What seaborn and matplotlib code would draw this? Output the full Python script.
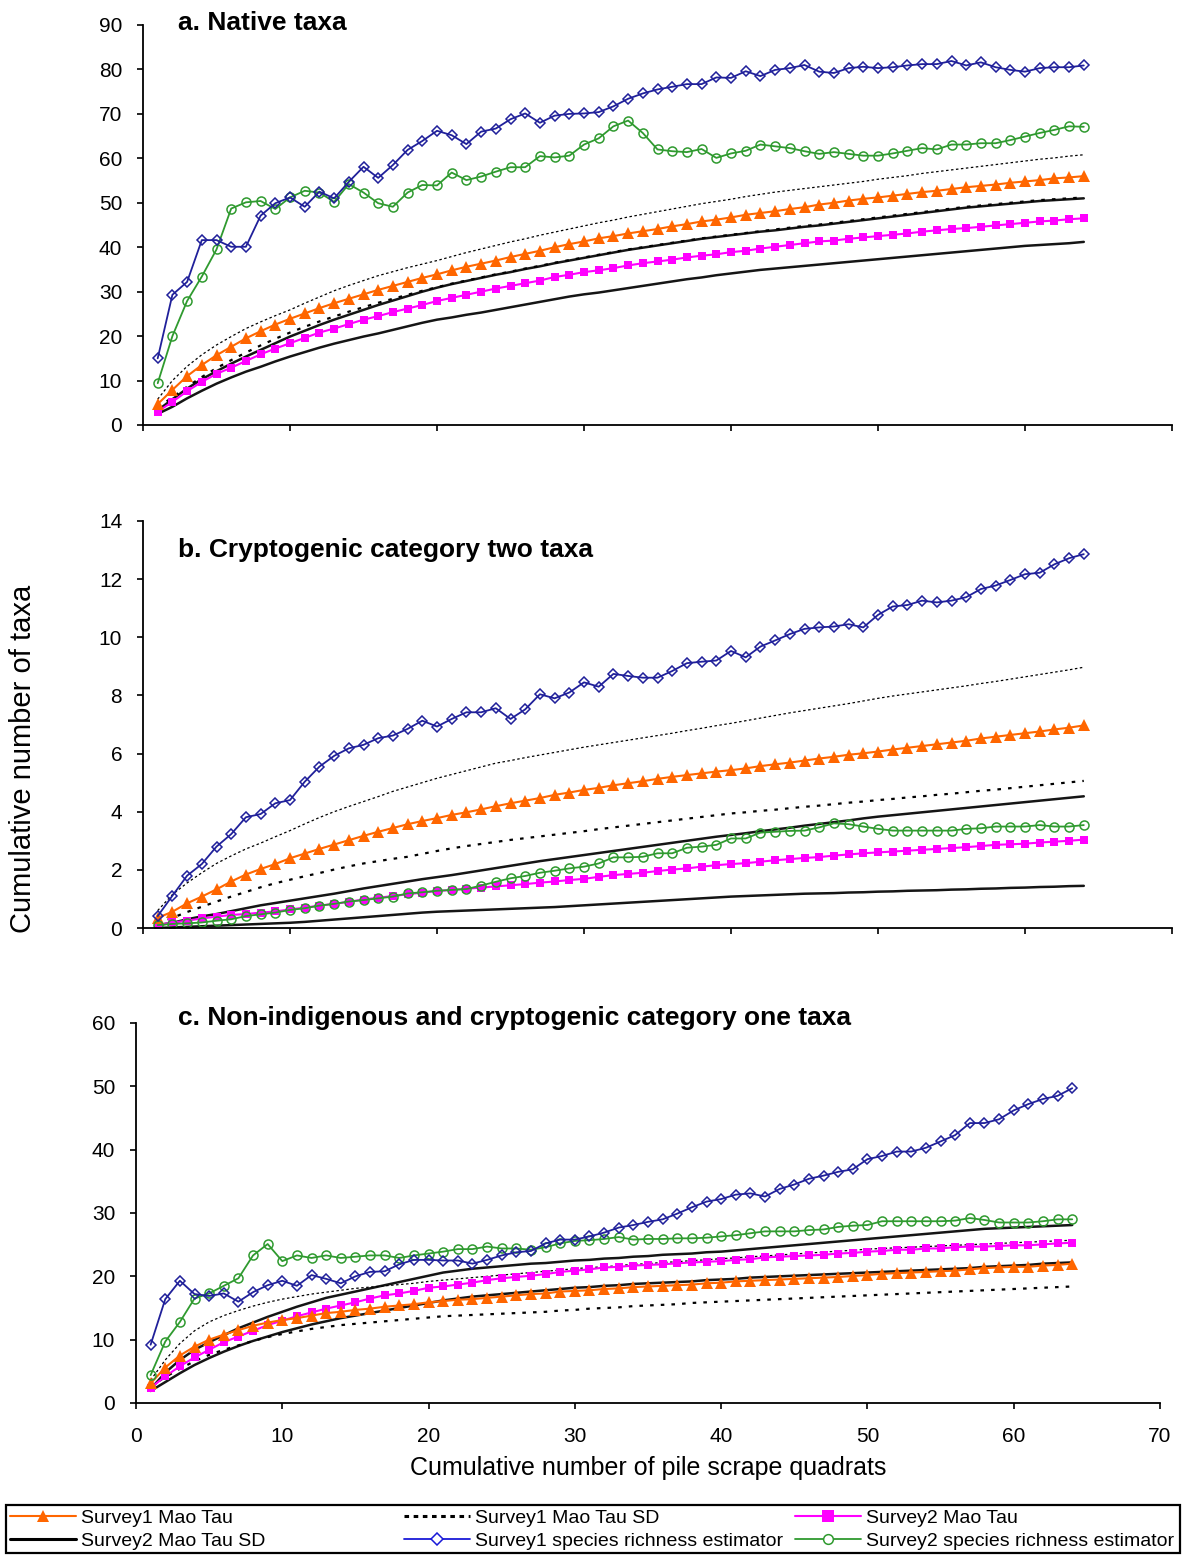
import matplotlib
matplotlib.use("Agg")
import matplotlib.pyplot as plt
from matplotlib.lines import Line2D
from matplotlib.patches import Rectangle
import seaborn as sns

# Cumulative number of pile scrape quadrats (sample order)
quadrats = list(range(1, 65))

# ---------------- a. Native taxa ----------------
native_s1_mean = [4.7, 7.9, 11.0, 13.5, 15.7, 17.6, 19.5, 21.1, 22.6, 23.9, 25.1, 26.3, 27.4, 28.4, 29.4, 30.4,
                  31.3, 32.2, 33.1, 33.9, 34.8, 35.6, 36.3, 37.0, 37.8, 38.5, 39.2, 40.0, 40.7, 41.3, 42.0, 42.5,
                  43.1, 43.6, 44.1, 44.7, 45.2, 45.8, 46.2, 46.7, 47.3, 47.7, 48.1, 48.6, 49.0, 49.6, 50.0, 50.5,
                  50.9, 51.2, 51.6, 52.0, 52.4, 52.7, 53.1, 53.5, 53.8, 54.1, 54.5, 54.8, 55.1, 55.5, 55.7, 56.0]
native_s1_sd_hi = [5.8, 10.0, 13.2, 15.8, 18.0, 19.9, 21.7, 23.2, 24.6, 25.9, 27.4, 28.8, 30.2, 31.4, 32.5, 33.6,
                   34.5, 35.4, 36.2, 37.0, 37.9, 38.8, 39.6, 40.4, 41.2, 41.9, 42.7, 43.4, 44.1, 44.8, 45.5, 46.1,
                   46.8, 47.4, 48.0, 48.6, 49.2, 49.8, 50.3, 50.8, 51.4, 51.9, 52.4, 52.8, 53.2, 53.6, 54.0, 54.4,
                   54.8, 55.3, 55.7, 56.1, 56.6, 57.0, 57.4, 57.8, 58.2, 58.6, 59.0, 59.4, 59.8, 60.1, 60.5, 60.8]
native_s1_sd_lo = [4.0, 6.2, 8.6, 10.8, 12.8, 14.6, 16.3, 17.9, 19.4, 20.8, 22.1, 23.3, 24.4, 25.5, 26.5, 27.5,
                   28.4, 29.3, 30.2, 31.0, 31.8, 32.5, 33.2, 33.9, 34.5, 35.2, 35.8, 36.5, 37.1, 37.7, 38.3, 38.9,
                   39.5, 40.0, 40.5, 41.0, 41.5, 42.0, 42.4, 42.8, 43.2, 43.6, 44.0, 44.4, 44.8, 45.1, 45.5, 45.9,
                   46.3, 46.7, 47.1, 47.5, 47.9, 48.3, 48.7, 49.1, 49.4, 49.7, 50.0, 50.3, 50.6, 50.8, 51.0, 51.2]
native_s2_mean = [3.0, 5.2, 7.6, 9.7, 11.5, 12.9, 14.4, 15.9, 17.2, 18.4, 19.6, 20.8, 21.7, 22.7, 23.7, 24.5,
                  25.4, 26.2, 27.0, 27.9, 28.6, 29.3, 30.0, 30.7, 31.3, 31.9, 32.5, 33.3, 33.8, 34.4, 34.8, 35.3,
                  35.9, 36.4, 36.8, 37.2, 37.7, 38.1, 38.4, 38.9, 39.2, 39.7, 40.1, 40.5, 40.9, 41.3, 41.5, 41.9,
                  42.2, 42.5, 42.8, 43.1, 43.5, 43.8, 44.1, 44.3, 44.6, 44.9, 45.2, 45.5, 45.8, 46.0, 46.3, 46.5]
native_s2_sd_hi = [3.3, 5.8, 8.2, 10.3, 12.1, 13.8, 15.4, 16.9, 18.4, 19.9, 21.2, 22.5, 23.7, 24.8, 25.9, 27.0,
                   28.0, 29.0, 30.0, 30.9, 31.7, 32.4, 33.1, 33.8, 34.4, 35.1, 35.7, 36.4, 37.0, 37.6, 38.2, 38.8,
                   39.4, 39.9, 40.4, 40.9, 41.4, 41.9, 42.3, 42.7, 43.1, 43.5, 43.8, 44.2, 44.6, 44.9, 45.3, 45.7,
                   46.1, 46.5, 46.9, 47.3, 47.7, 48.1, 48.5, 48.9, 49.2, 49.5, 49.8, 50.1, 50.4, 50.6, 50.8, 51.0]
native_s2_sd_lo = [2.5, 4.1, 6.0, 7.7, 9.3, 10.7, 12.0, 13.1, 14.3, 15.4, 16.4, 17.4, 18.3, 19.1, 19.9, 20.6,
                   21.4, 22.2, 23.0, 23.7, 24.2, 24.8, 25.3, 25.9, 26.5, 27.1, 27.7, 28.3, 28.9, 29.4, 29.8, 30.3,
                   30.8, 31.3, 31.8, 32.3, 32.8, 33.2, 33.7, 34.1, 34.5, 34.9, 35.2, 35.5, 35.8, 36.1, 36.4, 36.7,
                   37.0, 37.3, 37.6, 37.9, 38.2, 38.5, 38.8, 39.1, 39.4, 39.7, 40.0, 40.3, 40.5, 40.7, 40.9, 41.2]
native_s1_est = [15.0, 29.3, 32.2, 41.6, 41.6, 40.1, 40.1, 47.1, 49.9, 51.2, 49.1, 52.5, 51.0, 54.7, 58.1, 55.6,
                 58.5, 61.9, 63.9, 66.2, 65.2, 63.2, 66.0, 66.7, 68.8, 70.1, 68.0, 69.6, 70.0, 70.1, 70.4, 71.7,
                 73.4, 74.6, 75.5, 76.1, 76.7, 76.7, 78.2, 78.1, 79.6, 78.5, 79.9, 80.3, 81.0, 79.5, 79.2, 80.3,
                 80.6, 80.3, 80.5, 80.9, 81.2, 81.2, 81.9, 80.9, 81.6, 80.5, 79.9, 79.5, 80.3, 80.5, 80.5, 80.9]
native_s2_est = [9.4, 20.0, 27.9, 33.4, 39.5, 48.7, 50.1, 50.4, 48.6, 51.2, 52.7, 52.3, 50.2, 54.2, 52.3, 49.9,
                 49.1, 52.3, 54.0, 53.9, 56.8, 55.1, 55.9, 57.0, 58.0, 58.0, 60.5, 60.2, 60.6, 63.1, 64.5, 67.2,
                 68.5, 65.7, 62.0, 61.6, 61.4, 62.1, 60.1, 61.1, 61.7, 63.1, 62.7, 62.3, 61.6, 61.0, 61.4, 61.0,
                 60.6, 60.6, 61.1, 61.7, 62.3, 62.0, 63.1, 63.1, 63.4, 63.4, 64.1, 64.9, 65.7, 66.4, 67.2, 67.1]

# ---------------- b. Cryptogenic category two taxa ----------------
crypto2_s1_mean = [0.35, 0.56, 0.85, 1.08, 1.33, 1.60, 1.84, 2.03, 2.20, 2.40, 2.56, 2.72, 2.87, 3.02, 3.17, 3.31,
                   3.44, 3.57, 3.68, 3.78, 3.89, 3.98, 4.08, 4.19, 4.29, 4.38, 4.47, 4.58, 4.66, 4.75, 4.82, 4.91,
                   4.98, 5.05, 5.13, 5.20, 5.26, 5.32, 5.38, 5.43, 5.49, 5.57, 5.63, 5.69, 5.76, 5.83, 5.89, 5.96,
                   6.01, 6.07, 6.14, 6.20, 6.26, 6.32, 6.38, 6.44, 6.52, 6.58, 6.64, 6.70, 6.76, 6.83, 6.89, 6.97]
crypto2_s1_sd_hi = [0.60, 1.15, 1.55, 1.90, 2.22, 2.48, 2.72, 2.92, 3.14, 3.35, 3.58, 3.80, 4.00, 4.18, 4.35, 4.52,
                    4.70, 4.85, 5.00, 5.15, 5.28, 5.41, 5.54, 5.67, 5.76, 5.86, 5.95, 6.04, 6.13, 6.22, 6.30, 6.38,
                    6.46, 6.54, 6.62, 6.70, 6.79, 6.87, 6.96, 7.04, 7.13, 7.22, 7.31, 7.40, 7.48, 7.56, 7.64, 7.72,
                    7.81, 7.90, 7.98, 8.05, 8.12, 8.19, 8.26, 8.33, 8.41, 8.48, 8.56, 8.64, 8.72, 8.80, 8.88, 8.97]
crypto2_s1_sd_lo = [0.15, 0.35, 0.55, 0.73, 0.91, 1.08, 1.24, 1.40, 1.54, 1.66, 1.78, 1.89, 2.01, 2.12, 2.22, 2.30,
                    2.38, 2.45, 2.55, 2.65, 2.74, 2.82, 2.89, 2.96, 3.03, 3.09, 3.15, 3.21, 3.27, 3.33, 3.40, 3.46,
                    3.52, 3.58, 3.64, 3.70, 3.76, 3.82, 3.88, 3.94, 3.98, 4.03, 4.07, 4.12, 4.17, 4.21, 4.26, 4.31,
                    4.35, 4.40, 4.44, 4.49, 4.53, 4.58, 4.62, 4.67, 4.72, 4.76, 4.81, 4.86, 4.91, 4.96, 5.01, 5.06]
crypto2_s2_mean = [0.10, 0.19, 0.25, 0.33, 0.39, 0.45, 0.48, 0.53, 0.57, 0.64, 0.70, 0.77, 0.83, 0.90, 0.98, 1.04,
                   1.10, 1.16, 1.22, 1.27, 1.31, 1.35, 1.39, 1.43, 1.47, 1.51, 1.56, 1.60, 1.65, 1.69, 1.76, 1.82,
                   1.86, 1.90, 1.96, 2.01, 2.05, 2.11, 2.16, 2.20, 2.23, 2.28, 2.33, 2.37, 2.41, 2.44, 2.49, 2.53,
                   2.57, 2.60, 2.63, 2.66, 2.69, 2.72, 2.75, 2.78, 2.82, 2.86, 2.88, 2.90, 2.94, 2.97, 3.00, 3.04]
crypto2_s2_sd_hi = [0.10, 0.18, 0.30, 0.40, 0.48, 0.58, 0.68, 0.78, 0.86, 0.94, 1.02, 1.10, 1.18, 1.27, 1.36, 1.44,
                    1.52, 1.60, 1.68, 1.75, 1.82, 1.90, 1.98, 2.06, 2.14, 2.22, 2.30, 2.37, 2.44, 2.51, 2.58, 2.65,
                    2.72, 2.79, 2.86, 2.93, 3.00, 3.07, 3.14, 3.20, 3.26, 3.33, 3.39, 3.45, 3.52, 3.58, 3.64, 3.70,
                    3.77, 3.83, 3.88, 3.93, 3.98, 4.03, 4.08, 4.13, 4.18, 4.23, 4.28, 4.33, 4.38, 4.43, 4.48, 4.53]
crypto2_s2_sd_lo = [0.00, 0.02, 0.04, 0.06, 0.08, 0.10, 0.12, 0.14, 0.16, 0.18, 0.21, 0.25, 0.29, 0.33, 0.37, 0.41,
                    0.45, 0.49, 0.53, 0.56, 0.58, 0.60, 0.62, 0.64, 0.66, 0.68, 0.70, 0.72, 0.75, 0.78, 0.81, 0.84,
                    0.87, 0.90, 0.93, 0.96, 0.99, 1.02, 1.05, 1.08, 1.10, 1.12, 1.14, 1.16, 1.18, 1.19, 1.20, 1.22,
                    1.23, 1.25, 1.26, 1.28, 1.29, 1.30, 1.32, 1.33, 1.35, 1.36, 1.38, 1.39, 1.41, 1.42, 1.44, 1.45]
crypto2_s1_est = [0.41, 1.11, 1.80, 2.20, 2.80, 3.23, 3.81, 3.92, 4.29, 4.40, 5.03, 5.55, 5.92, 6.18, 6.30, 6.53,
                  6.62, 6.85, 7.13, 6.93, 7.19, 7.42, 7.42, 7.56, 7.19, 7.52, 8.04, 7.90, 8.10, 8.45, 8.30, 8.74,
                  8.67, 8.61, 8.61, 8.84, 9.11, 9.16, 9.20, 9.53, 9.31, 9.68, 9.89, 10.11, 10.29, 10.34, 10.37, 10.45,
                  10.34, 10.77, 11.06, 11.11, 11.26, 11.20, 11.26, 11.38, 11.66, 11.78, 11.97, 12.17, 12.22, 12.51, 12.72, 12.86]
crypto2_s2_est = [0.10, 0.14, 0.16, 0.19, 0.25, 0.30, 0.41, 0.47, 0.53, 0.62, 0.68, 0.77, 0.83, 0.91, 0.96, 1.02,
                  1.08, 1.19, 1.23, 1.28, 1.31, 1.34, 1.46, 1.59, 1.71, 1.79, 1.90, 1.97, 2.05, 2.11, 2.22, 2.43,
                  2.43, 2.45, 2.57, 2.57, 2.76, 2.80, 2.86, 3.08, 3.08, 3.28, 3.31, 3.34, 3.35, 3.46, 3.60, 3.57,
                  3.49, 3.41, 3.35, 3.35, 3.35, 3.35, 3.35, 3.41, 3.43, 3.49, 3.49, 3.49, 3.54, 3.49, 3.49, 3.54]

# ---------------- c. Non-indigenous and cryptogenic category one taxa ----------------
nis_s1_mean = [3.1, 5.6, 7.5, 8.9, 10.0, 10.8, 11.5, 12.2, 12.7, 13.1, 13.4, 13.8, 14.2, 14.4, 14.7, 14.9,
               15.2, 15.4, 15.6, 15.9, 16.1, 16.3, 16.4, 16.6, 16.8, 17.0, 17.2, 17.3, 17.6, 17.7, 17.8, 18.0,
               18.1, 18.3, 18.4, 18.5, 18.6, 18.7, 18.9, 19.0, 19.2, 19.3, 19.4, 19.5, 19.6, 19.7, 19.8, 19.9,
               20.05, 20.2, 20.4, 20.5, 20.6, 20.7, 20.8, 20.9, 21.1, 21.3, 21.4, 21.5, 21.5, 21.7, 21.8, 22.0]
nis_s1_sd_hi = [3.6, 6.8, 9.4, 11.4, 12.8, 13.8, 14.6, 15.3, 15.9, 16.4, 16.8, 17.2, 17.5, 17.8, 18.1, 18.3,
                18.5, 18.7, 18.9, 19.2, 19.4, 19.6, 19.8, 20.0, 20.2, 20.4, 20.6, 20.8, 21.0, 21.2, 21.4, 21.5,
                21.7, 21.9, 22.0, 22.2, 22.3, 22.5, 22.6, 22.8, 22.9, 23.1, 23.2, 23.4, 23.5, 23.7, 23.8, 24.0,
                24.1, 24.3, 24.4, 24.5, 24.6, 24.7, 24.8, 24.9, 25.0, 25.1, 25.2, 25.3, 25.4, 25.5, 25.6, 25.7]
nis_s1_sd_lo = [2.6, 4.1, 5.4, 6.6, 7.6, 8.4, 9.1, 9.8, 10.4, 10.9, 11.3, 11.7, 12.0, 12.3, 12.5, 12.7,
                12.9, 13.1, 13.3, 13.5, 13.7, 13.8, 13.9, 14.0, 14.1, 14.2, 14.3, 14.4, 14.6, 14.7, 14.9, 15.0,
                15.1, 15.3, 15.4, 15.5, 15.6, 15.8, 15.9, 16.0, 16.1, 16.2, 16.3, 16.4, 16.5, 16.6, 16.7, 16.8,
                16.9, 17.0, 17.1, 17.2, 17.3, 17.4, 17.5, 17.6, 17.7, 17.8, 17.9, 18.0, 18.1, 18.2, 18.3, 18.4]
nis_s2_mean = [2.4, 4.2, 5.8, 7.2, 8.4, 9.6, 10.5, 11.4, 12.3, 13.0, 13.7, 14.3, 14.9, 15.4, 15.9, 16.5,
               17.0, 17.3, 17.7, 18.2, 18.4, 18.7, 19.0, 19.4, 19.7, 19.9, 20.1, 20.35, 20.7, 20.9, 21.1, 21.4,
               21.5, 21.7, 21.8, 21.9, 22.05, 22.2, 22.3, 22.4, 22.6, 22.7, 23.0, 23.1, 23.2, 23.3, 23.4, 23.6,
               23.7, 23.9, 24.0, 24.2, 24.2, 24.4, 24.4, 24.6, 24.7, 24.7, 24.8, 24.9, 24.9, 25.05, 25.2, 25.3]
nis_s2_sd_hi = [2.2, 4.8, 6.8, 8.4, 9.6, 10.7, 11.8, 12.7, 13.6, 14.4, 15.2, 15.9, 16.6, 17.1, 17.6, 18.1,
                18.6, 19.1, 19.6, 20.1, 20.6, 20.9, 21.2, 21.4, 21.6, 21.8, 22.0, 22.1, 22.3, 22.5, 22.6, 22.8,
                22.9, 23.1, 23.2, 23.4, 23.5, 23.6, 23.8, 23.9, 24.1, 24.3, 24.5, 24.7, 24.9, 25.1, 25.3, 25.5,
                25.7, 25.9, 26.1, 26.3, 26.5, 26.7, 26.9, 27.1, 27.3, 27.5, 27.6, 27.7, 27.8, 27.9, 28.0, 28.1]
nis_s2_sd_lo = [1.9, 3.3, 4.7, 6.0, 7.1, 8.1, 9.0, 9.8, 10.5, 11.2, 11.8, 12.4, 12.9, 13.4, 13.8, 14.2,
                14.6, 15.0, 15.4, 15.8, 16.2, 16.5, 16.8, 17.0, 17.2, 17.4, 17.6, 17.8, 18.0, 18.2, 18.3, 18.5,
                18.6, 18.8, 18.9, 19.0, 19.1, 19.2, 19.4, 19.5, 19.6, 19.8, 19.9, 20.0, 20.1, 20.2, 20.3, 20.4,
                20.5, 20.6, 20.7, 20.8, 20.9, 21.0, 21.1, 21.2, 21.3, 21.5, 21.6, 21.7, 21.8, 22.0, 22.1, 22.2]
nis_s1_est = [9.2, 16.4, 19.3, 17.2, 16.9, 17.3, 16.0, 17.5, 18.6, 19.3, 18.5, 20.2, 19.6, 18.9, 20.0, 20.7,
              20.8, 21.9, 22.6, 22.6, 22.5, 22.5, 22.0, 22.6, 23.3, 23.8, 24.0, 25.2, 25.8, 25.8, 26.3, 26.9,
              27.7, 28.1, 28.6, 29.0, 29.9, 30.9, 31.8, 32.2, 32.9, 33.1, 32.6, 33.8, 34.5, 35.4, 35.9, 36.5,
              36.9, 38.5, 39.0, 39.7, 39.7, 40.3, 41.3, 42.3, 44.2, 44.2, 44.8, 46.2, 47.2, 48.0, 48.5, 49.7]
nis_s2_est = [4.4, 9.7, 12.8, 16.5, 17.3, 18.5, 19.7, 23.3, 25.1, 22.4, 23.3, 22.9, 23.3, 22.9, 23.1, 23.3,
              23.3, 22.9, 23.3, 23.6, 23.9, 24.3, 24.3, 24.7, 24.4, 24.4, 24.2, 24.6, 25.2, 25.6, 25.7, 25.9,
              26.2, 25.8, 25.9, 25.9, 26.0, 26.0, 26.1, 26.3, 26.5, 26.8, 27.1, 27.1, 27.1, 27.3, 27.4, 27.8,
              28.0, 28.1, 28.7, 28.7, 28.7, 28.7, 28.7, 28.8, 29.2, 28.9, 28.5, 28.5, 28.5, 28.7, 29.0, 29.0]

panel_titles = ["a. Native taxa",
                "b. Cryptogenic category two taxa",
                "c. Non-indigenous and cryptogenic category one taxa"]
x_ticks = [0, 10, 20, 30, 40, 50, 60, 70]
y_ticks_a = [0, 10, 20, 30, 40, 50, 60, 70, 80, 90]
y_ticks_b = [0, 2, 4, 6, 8, 10, 12, 14]
y_ticks_c = [0, 10, 20, 30, 40, 50, 60]

sns.set_style("ticks")
plt.rcParams["font.family"] = ["Liberation Sans", "DejaVu Sans"]
plt.rcParams["text.color"] = "black"
plt.rcParams["axes.labelcolor"] = "black"
plt.rcParams["xtick.color"] = "black"
plt.rcParams["ytick.color"] = "black"

ORANGE = "#ff6600"
MAGENTA = "#ff00ff"
NAVY = "#20209a"
GREEN = "#2f9a2f"

W, H = 1184, 1555
fig = plt.figure(figsize=(W / 100, H / 100), dpi=100)


def axes_px(left, top, right, bottom):
    return fig.add_axes([left / W, 1 - bottom / H, (right - left) / W, (bottom - top) / H])


ax_a = axes_px(143, 25, 1172, 425)
ax_b = axes_px(143, 521, 1172, 928)
ax_c = axes_px(136, 1023, 1160, 1403)

S1_SD_HI = dict(color="black", lw=0.9, linestyle=(0, (2.0, 2.0)))
S1_SD_LO = dict(color="black", lw=1.6, linestyle=(0, (1.6, 3.2)))
S2_SD = dict(color="#151515", lw=1.8, linestyle="-")


def draw_panel(ax, s1_mean, s1_hi, s1_lo, s2_mean, s2_hi, s2_lo, s1_est, s2_est):
    sns.lineplot(x=quadrats, y=s2_hi, ax=ax, **S2_SD)
    sns.lineplot(x=quadrats, y=s2_lo, ax=ax, **S2_SD)
    sns.lineplot(x=quadrats, y=s1_hi, ax=ax, **S1_SD_HI)
    sns.lineplot(x=quadrats, y=s1_lo, ax=ax, **S1_SD_LO)
    sns.lineplot(x=quadrats, y=s2_mean, ax=ax, color=MAGENTA, lw=1.5,
                 marker="s", markersize=6, markeredgewidth=0)
    sns.lineplot(x=quadrats, y=s1_mean, ax=ax, color=ORANGE, lw=1.5,
                 marker="^", markersize=8, markeredgewidth=0)
    sns.lineplot(x=quadrats, y=s2_est, ax=ax, color=GREEN, lw=1.3,
                 marker="o", markersize=6.5, markerfacecolor="none",
                 markeredgecolor=GREEN, markeredgewidth=1.1)
    sns.lineplot(x=quadrats, y=s1_est, ax=ax, color=NAVY, lw=1.3,
                 marker="D", markersize=5.4, markerfacecolor="none",
                 markeredgecolor=NAVY, markeredgewidth=1.1)


draw_panel(ax_a, native_s1_mean, native_s1_sd_hi, native_s1_sd_lo, native_s2_mean,
           native_s2_sd_hi, native_s2_sd_lo, native_s1_est, native_s2_est)
draw_panel(ax_b, crypto2_s1_mean, crypto2_s1_sd_hi, crypto2_s1_sd_lo, crypto2_s2_mean,
           crypto2_s2_sd_hi, crypto2_s2_sd_lo, crypto2_s1_est, crypto2_s2_est)
draw_panel(ax_c, nis_s1_mean, nis_s1_sd_hi, nis_s1_sd_lo, nis_s2_mean,
           nis_s2_sd_hi, nis_s2_sd_lo, nis_s1_est, nis_s2_est)

for ax, yt, title, ty in [(ax_a, y_ticks_a, panel_titles[0], 88.9),
                          (ax_b, y_ticks_b, panel_titles[1], 12.77),
                          (ax_c, y_ticks_c, panel_titles[2], 59.7)]:
    ax.set_xlim(0, 70)
    ax.set_ylim(yt[0], yt[-1])
    ax.set_xticks(x_ticks)
    ax.set_yticks(yt)
    ax.set_xlabel("")
    ax.set_ylabel("")
    sns.despine(ax=ax)
    for side in ("left", "bottom"):
        ax.spines[side].set_linewidth(1.3)
        ax.spines[side].set_color("black")
    ax.tick_params(axis="both", direction="out", length=4.5, width=1.2,
                   colors="black", labelcolor="black", labelsize=15)
    ax.tick_params(axis="y", pad=10.5)
    ax.tick_params(axis="x", pad=13)
    ax.set_facecolor("none")
    ax.text(2.4 if ax is not ax_c else 2.9, ty, title, fontsize=19, fontweight="bold",
            color="black", ha="left", va="baseline", clip_on=False)

ax_a.tick_params(axis="x", labelbottom=False)
ax_b.tick_params(axis="x", labelbottom=False)

fig.text(23 / W, 1 - 759 / H, "Cumulative number of taxa", rotation=90,
         ha="center", va="center", fontsize=21, color="black")
fig.text(648 / W, 1 - 1468 / H, "Cumulative number of pile scrape quadrats",
         ha="center", va="center", fontsize=18, color="black")

# Legend: three stacked columns inside a single framed box
h_s1 = Line2D([], [], color=ORANGE, lw=1.5, marker="^", markersize=9, markeredgewidth=0)
h_s1sd = Line2D([], [], color="black", lw=2.2, linestyle=(0, (1.5, 1.5)))
h_s2 = Line2D([], [], color=MAGENTA, lw=1.5, marker="s", markersize=9, markeredgewidth=0)
h_s2sd = Line2D([], [], color="black", lw=2.2)
h_e1 = Line2D([], [], color="#1a1ad8", lw=1.3, marker="D", markersize=6.5,
              markerfacecolor="white", markeredgewidth=1.1)
h_e2 = Line2D([], [], color=GREEN, lw=1.3, marker="o", markersize=7,
              markerfacecolor="white", markeredgewidth=1.1)

legend_cols = [
    (10, [h_s1, h_s2sd], ["Survey1 Mao Tau", "Survey2 Mao Tau SD"]),
    (404, [h_s1sd, h_e1], ["Survey1 Mao Tau SD", "Survey1 species richness estimator"]),
    (795, [h_s2, h_e2], ["Survey2 Mao Tau", "Survey2 species richness estimator"]),
]
for x0, handles, labels in legend_cols:
    fig.legend(handles, labels, loc="upper left",
               bbox_to_anchor=(x0 / W, 1 - 1509 / H), frameon=False,
               fontsize=14, handlelength=3.4, handletextpad=0.25,
               labelspacing=0.28, borderpad=0, borderaxespad=0,
               labelcolor="black")

fig.patches.append(Rectangle((6 / W, 1 - 1553 / H), 1174 / W, 48 / H,
                             transform=fig.transFigure, fill=False,
                             edgecolor="black", linewidth=1.6))

fig.savefig("out.png", dpi=100, facecolor="white")
